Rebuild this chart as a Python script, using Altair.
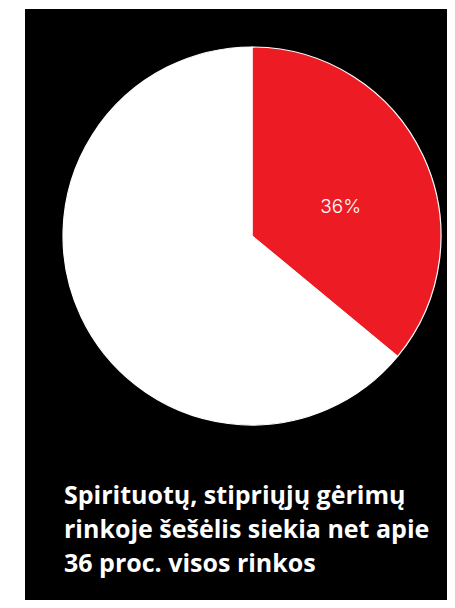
import altair as alt
import pandas as pd

categories = ["Šešėlinė rinka", "Legali rinka"]
shares = [36, 64]
labels = ["36%", ""]
colors = ["#ed1c24", "#ffffff"]
caption_lines = [
    "Spirituotų, stipriųjų gėrimų",
    "rinkoje šešėlis siekia net apie",
    "36 proc. visos rinkos",
]

pie_df = pd.DataFrame({"cat": categories, "share": shares, "label": labels, "order": [0, 1]})
cap_df = pd.DataFrame({"line": caption_lines, "row": list(range(len(caption_lines)))})
bg_df = pd.DataFrame({"a": [0]})

W, H = 439, 592
CX, CY, R = 244, 228, 189

bg = alt.Chart(bg_df).mark_rect(color="black").encode(
    x=alt.value(17), x2=alt.value(W + 20), y=alt.value(1), y2=alt.value(H + 20)
)

theta = alt.Theta("share:Q", stack=True)
arc = alt.Chart(pie_df).mark_arc(radius=R, stroke="white", strokeWidth=1.2).encode(
    theta=theta,
    order=alt.Order("order:Q"),
    color=alt.Color("cat:N", scale=alt.Scale(domain=categories, range=colors), legend=None),
    x=alt.value(CX), y=alt.value(CY),
)
txt = alt.Chart(pie_df).mark_text(
    radius=98, fontSize=19, font="Inter", fontWeight=300, color="white", dy=13
).encode(
    theta=theta,
    order=alt.Order("order:Q"),
    text="label:N",
    x=alt.value(CX), y=alt.value(CY),
)

caption = alt.Chart(cap_df).mark_text(
    align="left", baseline="alphabetic", fontSize=25, font="Open Sans", fontWeight="bold", color="white"
).encode(
    x=alt.value(56),
    y=alt.Y("row:Q", scale=alt.Scale(domain=[0, 2], range=[496, 564]), axis=None),
    text="line:N",
)

chart = alt.layer(bg, arc, txt, caption).properties(
    width=W, height=H, background="white", padding=0, autosize=alt.AutoSizeParams(type="none")
).configure_view(stroke=None).resolve_scale(theta="independent")

chart.save("out.html", embed_options={"renderer": "svg", "actions": False})
